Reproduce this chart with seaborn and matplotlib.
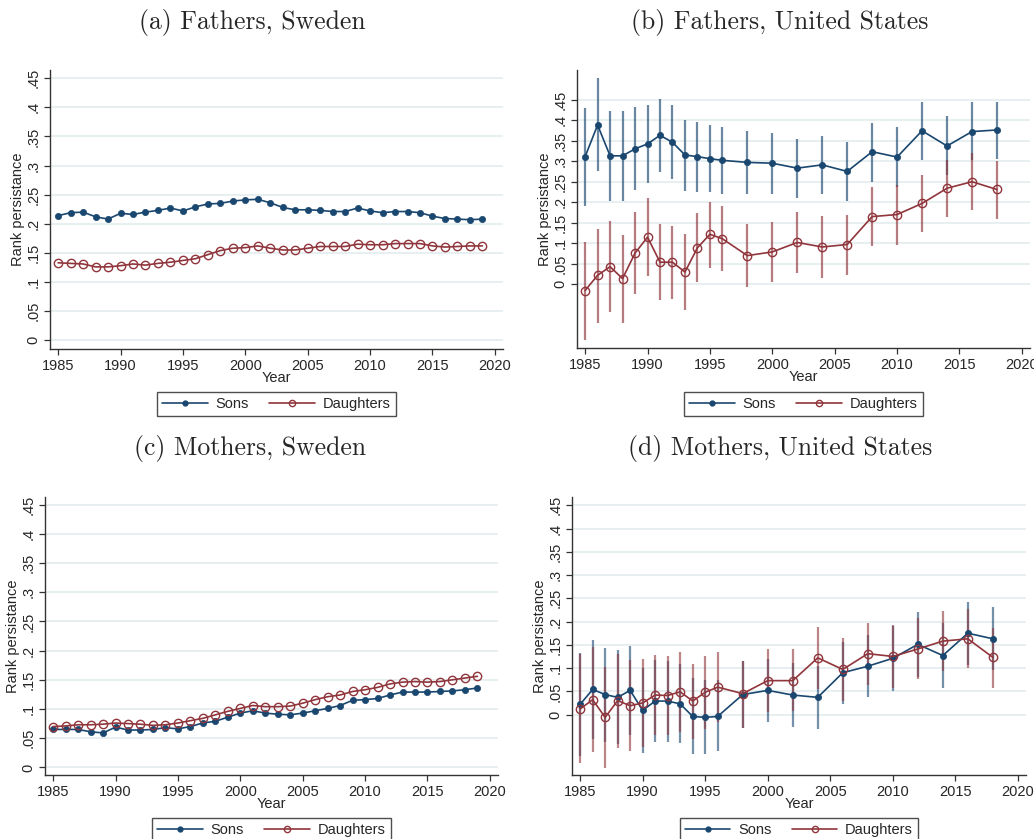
import matplotlib
matplotlib.use('Agg')
import matplotlib.pyplot as plt
from matplotlib.lines import Line2D
import seaborn as sns

# ---------------------------------------------------------------
# Data
# ---------------------------------------------------------------
years_se = list(range(1985, 2020))
years_us = list(range(1985, 1997)) + list(range(1998, 2019, 2))

# (a) Fathers, Sweden
fse_sons = [0.214, 0.219, 0.220, 0.212, 0.208, 0.218, 0.216, 0.220, 0.223, 0.227,
            0.222, 0.229, 0.234, 0.235, 0.239, 0.241, 0.242, 0.236, 0.228, 0.224,
            0.224, 0.223, 0.221, 0.221, 0.227, 0.222, 0.219, 0.221, 0.221, 0.219,
            0.213, 0.209, 0.208, 0.207, 0.208]
fse_daughters = [0.133, 0.132, 0.131, 0.126, 0.126, 0.128, 0.131, 0.129, 0.132, 0.134,
                 0.137, 0.140, 0.147, 0.154, 0.158, 0.159, 0.162, 0.158, 0.155, 0.155,
                 0.158, 0.161, 0.161, 0.161, 0.165, 0.164, 0.164, 0.166, 0.166, 0.166,
                 0.162, 0.160, 0.161, 0.162, 0.162]

# (c) Mothers, Sweden
mse_sons = [0.065, 0.065, 0.065, 0.061, 0.059, 0.069, 0.064, 0.064, 0.065, 0.068,
            0.066, 0.070, 0.076, 0.079, 0.086, 0.093, 0.097, 0.093, 0.091, 0.090,
            0.093, 0.097, 0.101, 0.106, 0.115, 0.116, 0.118, 0.124, 0.129, 0.129,
            0.129, 0.130, 0.131, 0.133, 0.136]
mse_daughters = [0.070, 0.071, 0.073, 0.073, 0.074, 0.076, 0.075, 0.074, 0.072, 0.073,
                 0.076, 0.080, 0.084, 0.090, 0.096, 0.101, 0.106, 0.104, 0.104, 0.105,
                 0.110, 0.116, 0.121, 0.124, 0.130, 0.133, 0.137, 0.143, 0.146, 0.147,
                 0.146, 0.147, 0.150, 0.153, 0.156]

# (b) Fathers, United States (estimate, CI low, CI high)
fus_sons = [0.311, 0.388, 0.313, 0.313, 0.330, 0.342, 0.363, 0.346, 0.315, 0.311, 0.306, 0.302,
            0.297, 0.295, 0.283, 0.291, 0.275, 0.323, 0.310, 0.374, 0.337, 0.372, 0.376]
fus_sons_lo = [0.192, 0.275, 0.204, 0.204, 0.230, 0.248, 0.273, 0.256, 0.227, 0.226, 0.224, 0.220,
               0.219, 0.221, 0.211, 0.221, 0.204, 0.250, 0.237, 0.302, 0.266, 0.302, 0.306]
fus_sons_hi = [0.429, 0.502, 0.421, 0.422, 0.431, 0.436, 0.452, 0.437, 0.401, 0.395, 0.387, 0.382,
               0.374, 0.369, 0.355, 0.361, 0.346, 0.394, 0.384, 0.445, 0.409, 0.443, 0.445]
fus_daughters = [-0.015, 0.022, 0.043, 0.014, 0.076, 0.115, 0.054, 0.054, 0.030, 0.089, 0.122, 0.111,
                 0.070, 0.079, 0.102, 0.091, 0.097, 0.165, 0.170, 0.197, 0.234, 0.250, 0.231]
fus_daughters_lo = [-0.136, -0.093, -0.067, -0.093, -0.024, 0.020, -0.039, -0.035, -0.063, 0.005, 0.039, 0.032,
                    -0.006, 0.006, 0.028, 0.015, 0.022, 0.093, 0.097, 0.127, 0.163, 0.180, 0.159]
fus_daughters_hi = [0.104, 0.136, 0.154, 0.120, 0.175, 0.211, 0.148, 0.143, 0.123, 0.173, 0.201, 0.191,
                    0.146, 0.152, 0.177, 0.167, 0.170, 0.238, 0.241, 0.266, 0.303, 0.319, 0.301]

# (d) Mothers, United States
mus_sons = [0.022, 0.054, 0.043, 0.037, 0.052, 0.009, 0.029, 0.029, 0.023, -0.004, -0.006, -0.004,
            0.043, 0.052, 0.042, 0.037, 0.090, 0.104, 0.121, 0.151, 0.127, 0.175, 0.163]
mus_sons_lo = [-0.090, -0.052, -0.058, -0.064, -0.043, -0.082, -0.059, -0.059, -0.062, -0.085, -0.085, -0.079,
               -0.029, -0.016, -0.026, -0.030, 0.023, 0.037, 0.051, 0.081, 0.058, 0.107, 0.095]
mus_sons_hi = [0.133, 0.160, 0.144, 0.138, 0.147, 0.100, 0.117, 0.116, 0.108, 0.078, 0.074, 0.075,
               0.116, 0.120, 0.110, 0.105, 0.157, 0.171, 0.191, 0.220, 0.196, 0.243, 0.231]
mus_daughters = [0.012, 0.032, -0.006, 0.030, 0.019, 0.025, 0.042, 0.041, 0.049, 0.029, 0.048, 0.059,
                 0.045, 0.073, 0.073, 0.122, 0.097, 0.131, 0.125, 0.141, 0.158, 0.163, 0.123]
mus_daughters_lo = [-0.104, -0.080, -0.114, -0.071, -0.078, -0.069, -0.044, -0.044, -0.038, -0.052, -0.030, -0.016,
                    -0.028, 0.006, 0.007, 0.056, 0.030, 0.064, 0.058, 0.076, 0.094, 0.100, 0.058]
mus_daughters_hi = [0.130, 0.145, 0.103, 0.131, 0.117, 0.119, 0.129, 0.126, 0.135, 0.109, 0.126, 0.134,
                    0.116, 0.141, 0.141, 0.188, 0.164, 0.198, 0.192, 0.207, 0.222, 0.227, 0.187]

ytick_vals = [0, 0.05, 0.1, 0.15, 0.2, 0.25, 0.3, 0.35, 0.4, 0.45]
ytick_labels = ['0', '.05', '.1', '.15', '.2', '.25', '.3', '.35', '.4', '.45']
xtick_vals = [1985, 1990, 1995, 2000, 2005, 2010, 2015, 2020]

NAVY = '#1a476f'
MAROON = '#90353b'
GRID = '#e6eef0'
FS = 10.5

# ---------------------------------------------------------------
# Figure setup
# ---------------------------------------------------------------
sns.set_theme(style='white')
plt.rcParams['font.family'] = ['Liberation Sans', 'DejaVu Sans']

W, H = 1034, 839
fig = plt.figure(figsize=(W / 100, H / 100), dpi=100)
fig.patch.set_facecolor('white')


def px_axes(left, top, right, bottom):
    return fig.add_axes([left / W, 1 - bottom / H, (right - left) / W, (bottom - top) / H])


def style_axes(ax, ylim):
    ax.set_xlim(1984.35, 2020.65)
    ax.set_ylim(*ylim)
    ax.set_yticks(ytick_vals)
    ax.set_yticklabels(ytick_labels, rotation=90, va='center', fontsize=FS)
    ax.set_xticks(xtick_vals)
    ax.set_xticklabels([str(v) for v in xtick_vals], fontsize=FS)
    ax.tick_params(axis='both', direction='out', length=4.5, width=0.9, color='#333333',
                   pad=2.5, left=True, bottom=True)
    ax.grid(axis='y', color=GRID, linewidth=1.3)
    ax.grid(axis='x', visible=False)
    for side in ['top', 'right']:
        ax.spines[side].set_visible(False)
    for side in ['left', 'bottom']:
        ax.spines[side].set_color('#333333')
        ax.spines[side].set_linewidth(1.0)
    ax.set_xlabel('Year', fontsize=FS, labelpad=-1)
    ax.set_ylabel('Rank persistance', fontsize=FS, labelpad=1)
    ax.set_facecolor('white')


def draw_series(ax, x, sons, daughters):
    sns.lineplot(x=x, y=sons, ax=ax, color=NAVY, linewidth=1.2, marker='o',
                 markersize=4.5, markerfacecolor=NAVY, markeredgecolor=NAVY,
                 markeredgewidth=0.5, errorbar=None, zorder=4)
    sns.lineplot(x=x, y=daughters, ax=ax, color=MAROON, linewidth=1.2, marker='o',
                 markersize=6, markerfacecolor='none', markeredgecolor=MAROON,
                 markeredgewidth=1.0, errorbar=None, zorder=5)


def add_legend(ax, top_px):
    handles = [
        Line2D([], [], color=NAVY, linewidth=1.2, marker='o', markersize=3.5,
               markerfacecolor=NAVY, markeredgecolor=NAVY),
        Line2D([], [], color=MAROON, linewidth=1.2, marker='o', markersize=4.5,
               markerfacecolor='none', markeredgecolor=MAROON, markeredgewidth=1.0),
    ]
    bb = ax.get_position()
    leg = ax.legend(handles, ['Sons', 'Daughters'], loc='upper center',
                    bbox_to_anchor=((bb.x0 + bb.x1) / 2, 1 - top_px / H),
                    bbox_transform=fig.transFigure, ncol=2, fontsize=FS,
                    handlelength=3.1, handletextpad=0.55, columnspacing=1.4,
                    borderpad=0.35, borderaxespad=0, frameon=True, fancybox=False,
                    shadow=False)
    leg.get_frame().set_edgecolor('#222222')
    leg.get_frame().set_linewidth(1.0)


def add_title(text, cx, cy):
    fig.text(cx / W, 1 - cy / H, text, ha='center', va='center',
             fontsize=18.5, family='cmr10')


# (a) Fathers, Sweden
ax_a = px_axes(50, 70, 503, 349)
draw_series(ax_a, years_se, fse_sons, fse_daughters)
style_axes(ax_a, (-0.015, 0.464))
add_legend(ax_a, 392)
add_title('(a) Fathers, Sweden', 252, 22)

# (b) Fathers, United States
ax_b = px_axes(577, 70, 1030, 348)
ax_b.vlines(years_us, fus_sons_lo, fus_sons_hi, color=NAVY, alpha=0.65, linewidth=1.6, zorder=2)
ax_b.vlines(years_us, fus_daughters_lo, fus_daughters_hi, color=MAROON, alpha=0.65, linewidth=1.6, zorder=2)
draw_series(ax_b, years_us, fus_sons, fus_daughters)
style_axes(ax_b, (-0.155, 0.522))
add_legend(ax_b, 392)
add_title('(b) Fathers, United States', 780, 22)

# (c) Mothers, Sweden
ax_c = px_axes(45, 497, 498, 775)
draw_series(ax_c, years_se, mse_sons, mse_daughters)
style_axes(ax_c, (-0.013, 0.463))
add_legend(ax_c, 818)
add_title('(c) Mothers, Sweden', 250, 449)

# (d) Mothers, United States
ax_d = px_axes(572, 497, 1026, 775)
ax_d.vlines(years_us, mus_sons_lo, mus_sons_hi, color=NAVY, alpha=0.6, linewidth=1.6, zorder=2)
ax_d.vlines(years_us, mus_daughters_lo, mus_daughters_hi, color=MAROON, alpha=0.6, linewidth=1.6, zorder=2)
draw_series(ax_d, years_us, mus_sons, mus_daughters)
style_axes(ax_d, (-0.130, 0.468))
add_legend(ax_d, 818)
add_title('(d) Mothers, United States', 780, 449)

fig.savefig('out.png', dpi=100, facecolor='white')
plt.close(fig)
